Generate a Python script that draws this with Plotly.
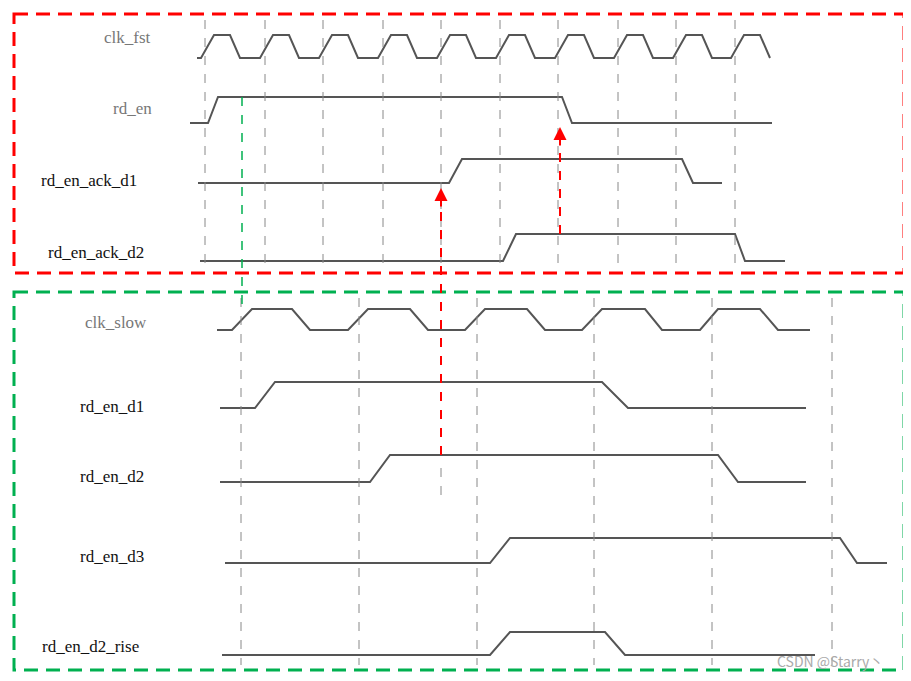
import plotly.graph_objects as go

# waveform data: (x breakpoints, logic levels 0/1)
clk_fst_x = [197, 201, 214, 230, 240, 260, 273, 289, 299, 319, 332, 348, 358, 378, 391, 407, 417, 437, 450, 466, 476, 496, 509, 525, 535, 555, 568, 584, 594, 614, 627, 643, 653, 673, 686, 702, 712, 731, 744, 760, 770, 783]
clk_fst_v = [0, 0, 1, 1, 0] + [0, 1, 1, 0] * 9
clk_fst_v = clk_fst_v[:len(clk_fst_x)]
rd_en_x = [190, 208, 218, 562, 572, 772]; rd_en_v = [0, 0, 1, 1, 0, 0]
ack1_x = [198, 449, 462, 682, 693, 722]; ack1_v = [0, 0, 1, 1, 0, 0]
ack2_x = [200, 503, 516, 735, 745, 785]; ack2_v = [0, 0, 1, 1, 0, 0]
clk_slow_x = [217, 232, 252, 292, 310, 348, 368, 410, 428, 465, 485, 527, 545, 582, 602, 645, 662, 700, 718, 760, 778, 810]
clk_slow_v = [0, 0, 1, 1, 0, 0, 1, 1, 0, 0, 1, 1, 0, 0, 1, 1, 0, 0, 1, 1, 0, 0]
d1_x = [220, 255, 275, 602, 628, 806]; d1_v = [0, 0, 1, 1, 0, 0]
d2_x = [220, 370, 390, 718, 738, 806]; d2_v = [0, 0, 1, 1, 0, 0]
d3_x = [225, 490, 510, 840, 857, 887]; d3_v = [0, 0, 1, 1, 0, 0]
rise_x = [222, 490, 510, 605, 625, 815]; rise_v = [0, 0, 1, 1, 0, 0]

signals = [
    ("clk_fst", clk_fst_x, clk_fst_v, 58, 23, 127, 37, "#777"),
    ("rd_en", rd_en_x, rd_en_v, 123, 26, 132, 108, "#777"),
    ("rd_en_ack_d1", ack1_x, ack1_v, 183, 24, 89, 180, "#111"),
    ("rd_en_ack_d2", ack2_x, ack2_v, 261, 27, 96, 252, "#111"),
    ("clk_slow", clk_slow_x, clk_slow_v, 330, 21, 116, 322, "#777"),
    ("rd_en_d1", d1_x, d1_v, 408, 26, 112, 406, "#111"),
    ("rd_en_d2", d2_x, d2_v, 482, 27, 112, 476, "#111"),
    ("rd_en_d3", d3_x, d3_v, 563, 25, 112, 556, "#111"),
    ("rd_en_d2_rise", rise_x, rise_v, 655, 23, 90, 646, "#111"),
]
top_grid = [205, 265, 323, 383, 441, 500, 558, 618, 676, 735]
bot_grid = [241, 359, 477, 594, 712, 832]

fig = go.Figure()
for name, xs, vs, base, h, lx, ly, col in signals:
    fig.add_trace(go.Scatter(x=xs, y=[base - h * v for v in vs], mode="lines",
                             line=dict(color="#555", width=2), hoverinfo="skip", showlegend=False))
    fig.add_annotation(x=lx, y=ly, text=name, showarrow=False,
                       font=dict(family="Liberation Serif, DejaVu Serif, serif", size=17, color=col))

for gx in top_grid:
    fig.add_shape(type="line", x0=gx, x1=gx, y0=20, y1=270, line=dict(color="#888", width=1, dash="dash"))
for gx in bot_grid:
    fig.add_shape(type="line", x0=gx, x1=gx, y0=298, y1=665, line=dict(color="#888", width=1, dash="dash"))
fig.add_shape(type="line", x0=441, x1=441, y0=468, y1=495, line=dict(color="#888", width=1, dash="dash"))

fig.add_shape(type="rect", x0=14, x1=904, y0=14, y1=273, line=dict(color="#ff0000", width=3, dash="14px,8px"))
fig.add_shape(type="rect", x0=14, x1=904, y0=292, y1=670, line=dict(color="#00b050", width=3, dash="14px,8px"))

fig.add_shape(type="line", x0=242, x1=242, y0=97, y1=309, line=dict(color="#00b050", width=1.5, dash="dash"))
fig.add_shape(type="line", x0=441, x1=441, y0=455, y1=190, line=dict(color="#ff0000", width=2, dash="dash"))
fig.add_shape(type="line", x0=560, x1=560, y0=234, y1=130, line=dict(color="#ff0000", width=2, dash="dash"))
for ax, ay in [(441, 188), (560, 127)]:
    fig.add_annotation(x=ax, y=ay, ax=ax, ay=ay + 20, xref="x", yref="y", axref="x", ayref="y",
                       showarrow=True, arrowhead=2, arrowsize=1.3, arrowwidth=2, arrowcolor="#ff0000", text="")

fig.add_annotation(x=830, y=661, text="CSDN @Starry丶", showarrow=False,
                   font=dict(family="Noto Sans CJK SC", size=14, color="#aaa"))

fig.update_layout(width=897, height=667, margin=dict(l=0, r=0, t=0, b=0),
                  plot_bgcolor="white", paper_bgcolor="white",
                  xaxis=dict(range=[8, 905], visible=False),
                  yaxis=dict(range=[675, 8], visible=False))
fig.write_html("out.html")
